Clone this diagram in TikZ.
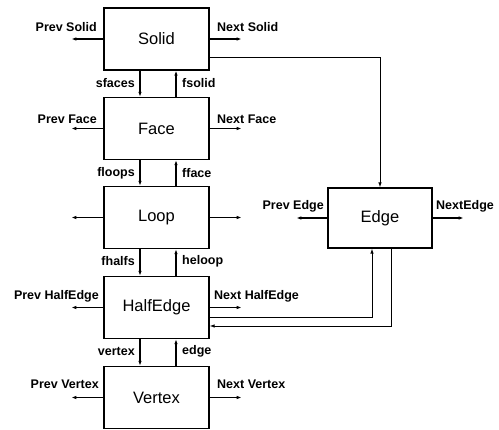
\documentclass[tikz,border=0pt]{standalone}
\usepackage{fontspec}
\setmainfont{Liberation Sans}
\usetikzlibrary{arrows.meta}
\tikzset{
  box/.style={draw, line width=1.3pt, minimum width=105pt, minimum height=62pt, inner sep=0pt,
    font=\fontsize{16.5}{18}\selectfont},
  arr/.style={line width=1.1pt, -{Latex[length=5pt,width=3.5pt]}},
  thinarr/.style={line width=0.9pt, -{Latex[length=5pt,width=3.5pt]}},
  lbl/.style={inner sep=0pt, font=\fontsize{12.5}{14}\selectfont\bfseries},
}
\begin{document}
\begin{tikzpicture}[x=1pt,y=-1pt]
\useasboundingbox (0,0) rectangle (499,430);
% boxes
\node[box] (solid) at (156.5,39) {Solid};
\node[box] (face) at (156.5,128.5) {Face};
\node[box] (loop) at (156.5,217.5) {Loop};
\node[box] (half) at (156.5,307.5) {HalfEdge};
\node[box] (vertex) at (156.5,397.5) {Vertex};
\node[box, minimum width=104pt, minimum height=60pt] (edge) at (380,218) {Edge};
% helper coordinates
\coordinate (xd) at (140,0);
\coordinate (xu) at (176,0);
\coordinate (ySE) at (0,57);
\coordinate (yHE1) at (0,317);
\coordinate (yHE2) at (0,326);
\coordinate (xHE1) at (372,0);
\coordinate (xHE2) at (391,0);
% side arrows
\foreach \b in {solid,face,loop,half,vertex}{
  \draw[arr] (\b.west) -- ++(-32,0) coordinate (\b-l);
  \draw[arr] (\b.east) -- ++(32,0) coordinate (\b-r);
}
\draw[arr] (edge.west) -- ++(-31,0) coordinate (edge-l);
\draw[arr] (edge.east) -- ++(31,0) coordinate (edge-r);
% side labels
\node[lbl, anchor=south east] (lps) at (97,32) {Prev Solid};
\node[lbl, anchor=south west] (lns) at (217,32) {Next Solid};
\node[lbl, anchor=south east] (lpf) at (97,124) {Prev Face};
\node[lbl, anchor=south west] (lnf) at (217,124) {Next Face};
\node[lbl, anchor=south east] (lph) at (99,302) {Prev HalfEdge};
\node[lbl, anchor=south west] (lnh) at (214,302) {Next HalfEdge};
\node[lbl, anchor=south east] (lpv) at (99,389) {Prev Vertex};
\node[lbl, anchor=south west] (lnv) at (217,389) {Next Vertex};
\node[lbl, anchor=south east] (lpe) at (324,212) {Prev Edge};
\node[lbl, anchor=south west] (lne) at (436,212) {NextEdge};
% vertical connections
\draw[arr] (solid.south -| xd) -- (face.north -| xd);
\draw[arr] (face.north -| xu) -- (solid.south -| xu);
\draw[arr] (face.south -| xd) -- (loop.north -| xd);
\draw[arr] (loop.north -| xu) -- (face.south -| xu);
\draw[arr] (loop.south -| xd) -- (half.north -| xd);
\draw[arr] (half.north -| xu) -- (loop.south -| xu);
\draw[arr] (half.south -| xd) -- (vertex.north -| xd);
\draw[arr] (vertex.north -| xu) -- (half.south -| xu);
% vertical labels
\node[lbl, anchor=east] (l1) at (135,83) {sfaces};
\node[lbl, anchor=west] (l2) at (182,83) {fsolid};
\node[lbl, anchor=east] (l3) at (135,173) {floops};
\node[lbl, anchor=west] (l4) at (182,173) {fface};
\node[lbl, anchor=east] (l5) at (135,261) {fhalfs};
\node[lbl, anchor=west] (l6) at (182,261) {heloop};
\node[lbl, anchor=east] (l7) at (135,351) {vertex};
\node[lbl, anchor=west] (l8) at (182,351) {edge};
% edge connections
\draw[thinarr] (solid.east |- ySE) -| (edge.north);
\draw[thinarr] (half.east |- yHE1) -| (edge.south -| xHE1);
\draw[thinarr] (edge.south -| xHE2) |- (half.east |- yHE2);
\end{tikzpicture}
\end{document}
